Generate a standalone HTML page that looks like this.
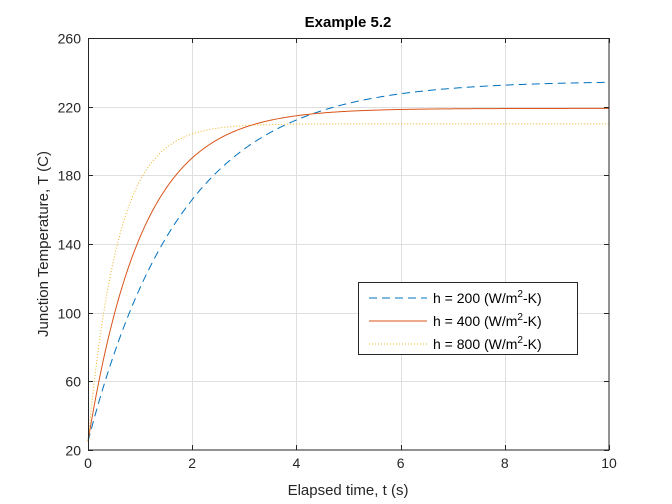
<!DOCTYPE html>
<html><head><meta charset="utf-8"><style>
body{margin:0;background:#fff;}
svg{display:block;font-family:"Liberation Sans",sans-serif;}
</style></head><body>
<svg id="s" width="672" height="504" xmlns="http://www.w3.org/2000/svg">
<rect width="672" height="504" fill="#fff"/>
<rect x="88" y="38" width="521" height="412" fill="#fff"/>
<g id="grid" stroke="#dfdfdf" stroke-width="1"></g>
<g id="curves" fill="none"></g>
<rect x="88.5" y="38.5" width="520.5" height="411.5" fill="none" stroke="#262626" stroke-width="1"/>
<g id="ticks" stroke="#262626"></g>
<g id="labels" font-size="14" fill="#262626"></g>
<text x="348" y="27" font-size="15" font-weight="bold" text-anchor="middle" fill="#000">Example 5.2</text>
<text x="348" y="495" font-size="15" text-anchor="middle" fill="#262626">Elapsed time, t (s)</text>
<text transform="translate(48,244) rotate(-90)" font-size="15" text-anchor="middle" fill="#262626">Junction Temperature, T (C)</text>
<rect x="358.5" y="282.5" width="219" height="72" fill="#fff" stroke="#262626"/>
<line x1="369" y1="298" x2="427" y2="298" stroke="#0072BD" stroke-dasharray="8,5"/>
<line x1="369" y1="321" x2="427" y2="321" stroke="#D95319"/>
<line x1="369" y1="344" x2="427" y2="344" stroke="#EDB120" stroke-dasharray="1,2"/>
<g font-size="14" fill="#000">
<text x="433" y="303">h = 200 (W/m<tspan dy="-6" font-size="10">2</tspan><tspan dy="6">-K)</tspan></text>
<text x="433" y="326">h = 400 (W/m<tspan dy="-6" font-size="10">2</tspan><tspan dy="6">-K)</tspan></text>
<text x="433" y="349">h = 800 (W/m<tspan dy="-6" font-size="10">2</tspan><tspan dy="6">-K)</tspan></text>
</g>
</svg>
<script>
var NS="http://www.w3.org/2000/svg";
function X(t){return 88+52.1*t}
function Y(T){return 450-(T-20)*412/240}
function el(p,tag,a){var e=document.createElementNS(NS,tag);for(var k in a)e.setAttribute(k,a[k]);document.getElementById(p).appendChild(e);return e;}
for(var t=0;t<=10;t+=2){var x=Math.round(X(t))+0.5;
 if(t>0&&t<10)el("grid","line",{x1:x,y1:38,x2:x,y2:450});
 el("ticks","line",{x1:x,y1:450,x2:x,y2:445});el("ticks","line",{x1:x,y1:38,x2:x,y2:43});
 var tx=el("labels","text",{x:X(t),y:468,"text-anchor":"middle"});tx.textContent=t;}
for(var T=20;T<=260;T+=40){var y=Math.round(Y(T))+0.5;
 if(T>20&&T<260)el("grid","line",{x1:88,y1:y,x2:609,y2:y});
 el("ticks","line",{x1:88,y1:y,x2:93,y2:y});el("ticks","line",{x1:609,y1:y,x2:604,y2:y});
 var ty=el("labels","text",{x:81,y:y+5,"text-anchor":"end"});ty.textContent=T;}
var cs=[[235,1.8,"#0072BD","8,5"],[219,1.05,"#D95319",""],[210,0.58,"#EDB120","1,2"]];
cs.forEach(function(c){var d="";for(var i=0;i<=400;i++){var t=i/40;var T=c[0]-(c[0]-25)*Math.exp(-t/c[1]);d+=(i?"L":"M")+X(t).toFixed(2)+","+Y(T).toFixed(2);}
 var a={d:d,stroke:c[2],"stroke-width":1};if(c[3])a["stroke-dasharray"]=c[3];el("curves","path",a);});
</script>
</body></html>
